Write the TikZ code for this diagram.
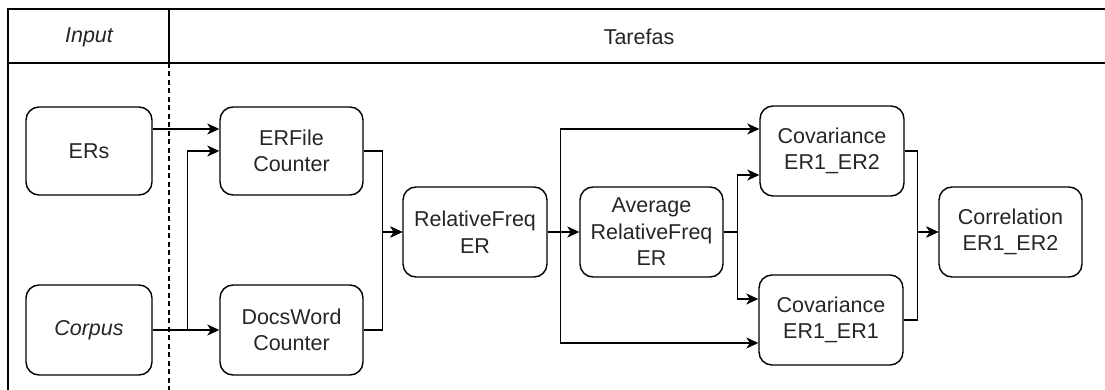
\documentclass[tikz,border=0pt]{standalone}
\usepackage{fontspec}
\setmainfont{Liberation Sans}
\usetikzlibrary{arrows.meta,calc}
\begin{document}
\begin{tikzpicture}[x=1pt,y=-1pt,
  box/.style={draw, line width=1.4pt, rounded corners=13pt, align=center,
    inner sep=0pt, text=black!85, font=\fontsize{21.5}{26.5}\selectfont},
  arr/.style={line width=1.4pt, -{Stealth[length=12pt,width=11pt,inset=3.5pt]}},
  frame/.style={line width=1.6pt},
  lbl/.style={text=black!85, font=\fontsize{21.5}{26.5}\selectfont}]
\useasboundingbox (0,0) rectangle (1105,390);
% swimlane frame
\draw[frame] (8,395) -- (8,9) -- (1110,9);
\draw[frame] (8,63) -- (1110,63);
\draw[frame] (169,9) -- (169,63);
\draw[line width=1.3pt, dash pattern=on 5pt off 3.5pt] (169,63) -- (169,395);
\node[lbl] (input) at (89,37) {\itshape Input};
\node[lbl] (tarefas) at (639,37) {Tarefas};
% nodes
\node[box, minimum width=126pt, minimum height=88pt] (ers) at (89,151) {ERs};
\node[box, minimum width=126pt, minimum height=90pt] (corpus) at (89,330) {\itshape Corpus};
\node[box, minimum width=143pt, minimum height=88pt] (erfile) at (291.5,151) {ERFile\\Counter};
\node[box, minimum width=143pt, minimum height=90pt] (docs) at (291.5,330) {DocsWord\\Counter};
\node[box, minimum width=144pt, minimum height=90pt] (relf) at (475,232) {RelativeFreq\\ER};
\node[box, minimum width=143pt, minimum height=90pt] (avg) at (651.5,232) {Average\\RelativeFreq\\ER};
\node[box, minimum width=144pt, minimum height=90pt] (cov12) at (832,151) {Covariance\\ER1\_ER2};
\node[box, minimum width=144pt, minimum height=90pt] (cov11) at (831,320) {Covariance\\ER1\_ER1};
\node[box, minimum width=143pt, minimum height=90pt] (corr) at (1010.5,232) {Correlation\\ER1\_ER2};
% connectors
\draw[arr] ([yshift=22pt]ers.east) -- ([yshift=22pt]erfile.west);
\draw[arr] (corpus.east) -- (docs.west);
\draw[arr] (corpus.east) -- ++(35,0) |- (erfile.west);
\draw[arr] (erfile.east) -- ++(19,0) |- (relf.west);
\draw[arr] (docs.east) -- ++(19,0) |- (relf.west);
\draw[arr] (relf.east) -- (avg.west);
\draw[arr] (relf.east) -- ++(13,0) |- ([yshift=22pt]cov12.west);
\draw[arr] (relf.east) -- ++(13,0) |- ([yshift=-23pt]cov11.west);
\draw[arr] (avg.east) -- ++(14,0) |- ([yshift=-24pt]cov12.west);
\draw[arr] (avg.east) -- ++(14,0) |- ([yshift=21pt]cov11.west);
\draw[arr] (cov12.east) -- ++(13,0) |- (corr.west);
\draw[arr] (cov11.east) -- ++(14,0) |- (corr.west);
\end{tikzpicture}
\end{document}
